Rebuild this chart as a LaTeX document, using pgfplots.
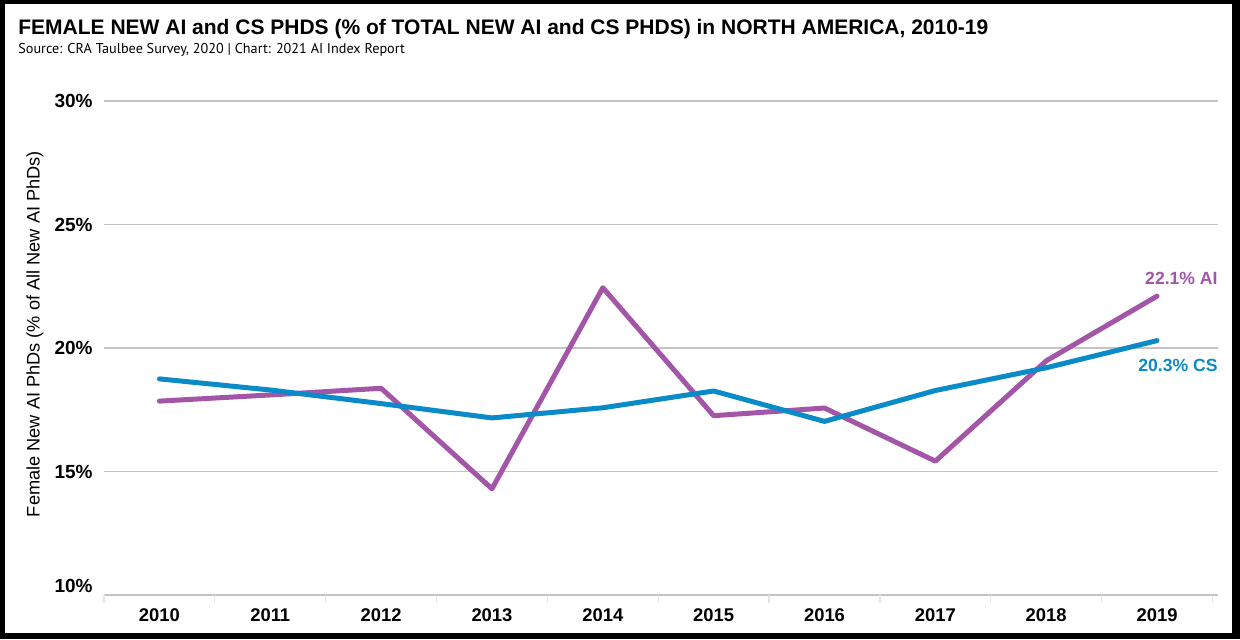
\documentclass[border=0pt]{standalone}
\usepackage{pgfplots}
\pgfplotsset{compat=1.18}
\usepackage{fontspec}
\setmainfont{Liberation Sans}
\newfontfamily\subfont{PT Sans}
\definecolor{aipurple}{HTML}{A356A8}
\definecolor{csblue}{HTML}{0A8BC8}
\definecolor{gridgray}{HTML}{C4C4C4}
\begin{document}
\begin{tikzpicture}[x=1pt,y=1pt]
\fill[black] (0,0) rectangle (620,319.5);
\fill[white] (2.5,3) rectangle (616,317.5);
\node[anchor=base west, inner sep=0, font=\fontsize{10.5}{12}\selectfont\bfseries] at (9,302) {FEMALE NEW AI and CS PHDS (\% of TOTAL NEW AI and CS PHDS) in NORTH AMERICA, 2010-19};
\node[anchor=base west, inner sep=0, font=\subfont\fontsize{7.1}{9}\selectfont] at (9,293) {Source: CRA Taulbee Survey, 2020 | Chart: 2021 AI Index Report};
\node[rotate=90, inner sep=0, font=\fontsize{9.1}{11}\selectfont] at (17.5,152.5) {Female New AI PhDs (\% of All New AI PhDs)};
\begin{axis}[
  at={(52pt,22pt)}, anchor=south west, scale only axis,
  width=557pt, height=247pt,
  xmin=2009.5, xmax=2019.55, ymin=10, ymax=30,
  axis line style={draw=none},
  clip=false,
  ytick={10,15,20,25,30},
  yticklabels={\smash{\raisebox{1.5pt}{10\%}},15\%,20\%,25\%,30\%},
  yticklabel style={inner sep=0pt, xshift=-5.5pt, font=\fontsize{9.5}{11}\selectfont\bfseries},
  xtick={2010,2011,2012,2013,2014,2015,2016,2017,2018,2019},
  xticklabels={2010,2011,2012,2013,2014,2015,2016,2017,2018,2019},
  xticklabel style={inner sep=0pt, yshift=-6.5pt, font=\fontsize{9.2}{11}\selectfont\bfseries},
  minor xtick={2009.5,2010.5,2011.5,2012.5,2013.5,2014.5,2015.5,2016.5,2017.5,2018.5,2019.5},
  major tick length=0pt,
  minor tick length=4pt,
  tick align=outside,
  tick pos=left,
  minor tick style={black!10, line width=0.6pt},
  ymajorgrids,
  grid style={gridgray, line width=0.75pt},
]
\addplot[aipurple, line width=2.5pt, line join=round, line cap=round] coordinates {
 (2010,17.85) (2011,18.1) (2012,18.37) (2013,14.3) (2014,22.44)
 (2015,17.26) (2016,17.57) (2017,15.42) (2018,19.48) (2019,22.1)};
\addplot[csblue, line width=2.5pt, line join=round, line cap=round] coordinates {
 (2010,18.75) (2011,18.3) (2012,17.75) (2013,17.17) (2014,17.58)
 (2015,18.26) (2016,17.03) (2017,18.28) (2018,19.2) (2019,20.3)};
\node[anchor=east, inner sep=0, text=aipurple, font=\fontsize{8.8}{10}\selectfont\bfseries] at (axis cs:2019.55,22.83) {22.1\% AI};
\node[anchor=east, inner sep=0, text=csblue, font=\fontsize{8.8}{10}\selectfont\bfseries] at (axis cs:2019.55,19.31) {20.3\% CS};
\end{axis}
\end{tikzpicture}
\end{document}
